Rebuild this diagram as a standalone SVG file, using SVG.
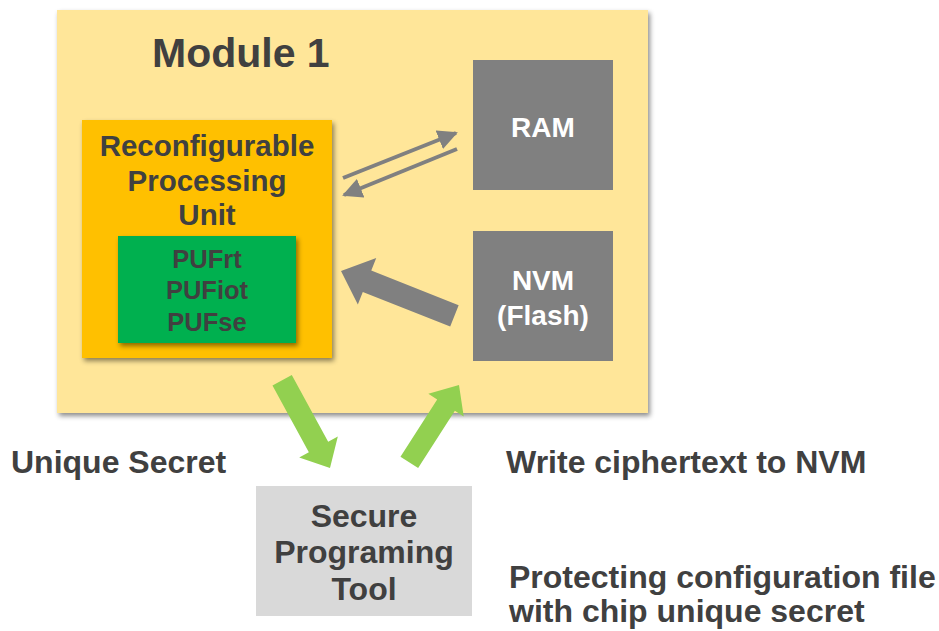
<svg xmlns="http://www.w3.org/2000/svg" width="939" height="631" viewBox="0 0 939 631">
<style>
.t{font-family:"Liberation Sans",Arial,sans-serif;font-weight:bold;fill:#404040}
.w{font-family:"Liberation Sans",Arial,sans-serif;font-weight:bold;fill:#ffffff}
.c{text-anchor:middle}
.gray{fill:#808080}
.green{fill:#92d050}
</style>
<defs>
<filter id="sh" x="-10%" y="-10%" width="130%" height="130%">
<feDropShadow dx="2" dy="3" stdDeviation="2.5" flood-color="#000" flood-opacity="0.45"/>
</filter>
<marker id="ah" viewBox="0 0 10 10" refX="9" refY="5" markerWidth="5" markerHeight="5" orient="auto">
<path d="M0,0 L10,5 L0,10 Z" fill="#808080"/>
</marker>
</defs>
<rect width="939" height="631" fill="#ffffff"/>
<g id="module1">
<rect x="57" y="10" width="591" height="403" fill="#ffe699" filter="url(#sh)"/>
<text class="t" x="152" y="67" font-size="41">Module 1</text>
</g>
<g id="rpu">
<rect x="82" y="120" width="250" height="238" fill="#ffc000" filter="url(#sh)"/>
<text class="t c" x="207" y="156" font-size="29.5">Reconfigurable</text>
<text class="t c" x="207" y="191" font-size="29.5">Processing</text>
<text class="t c" x="207" y="225" font-size="29.5">Unit</text>
</g>
<g id="puf">
<rect x="118" y="236" width="178" height="107" fill="#00b050" filter="url(#sh)"/>
<text class="t c" x="207" y="268" font-size="25.5">PUFrt</text>
<text class="t c" x="207" y="299" font-size="25.5">PUFiot</text>
<text class="t c" x="207" y="331" font-size="25.5">PUFse</text>
</g>
<g id="ram">
<rect class="gray" x="473" y="60" width="140" height="130"/>
<text class="w c" x="543" y="137" font-size="28">RAM</text>
</g>
<g id="nvm">
<rect class="gray" x="473" y="231" width="140" height="130"/>
<text class="w c" x="543" y="290" font-size="28">NVM</text>
<text class="w c" x="543" y="325" font-size="28">(Flash)</text>
</g>
<g id="spt">
<rect x="256" y="486" width="216" height="130" fill="#d9d9d9"/>
<text class="t c" x="364" y="527" font-size="32">Secure</text>
<text class="t c" x="364" y="563" font-size="32">Programing</text>
<text class="t c" x="364" y="600" font-size="32">Tool</text>
</g>
<g id="label-unique">
<text class="t" x="11" y="473" font-size="32">Unique Secret</text>
</g>
<g id="label-write">
<text class="t" x="506" y="473" font-size="32">Write ciphertext to NVM</text>
</g>
<g id="label-protect">
<text class="t" x="509" y="588" font-size="32">Protecting configuration file</text>
<text class="t" x="509" y="622" font-size="32">with chip unique secret</text>
</g>
<g id="connectors">
<line x1="343" y1="178" x2="456" y2="133" stroke="#808080" stroke-width="4" marker-end="url(#ah)"/>
<line x1="457" y1="149" x2="344" y2="195" stroke="#808080" stroke-width="4" marker-end="url(#ah)"/>
<polygon class="gray" transform="translate(341,271) rotate(21.6)" points="0,0 28,-25 28,-11.5 122,-11.5 122,11.5 28,11.5 28,25"/>
<polygon class="green" transform="translate(330,468) rotate(61.4)" points="0,0 -24,-22 -24,-11 -100,-11 -100,11 -24,11 -24,22"/>
<polygon class="green" transform="translate(459,385) rotate(-57.3)" points="0,0 -24,-21 -24,-10.5 -92,-10.5 -92,10.5 -24,10.5 -24,21"/>
</g>
</svg>
